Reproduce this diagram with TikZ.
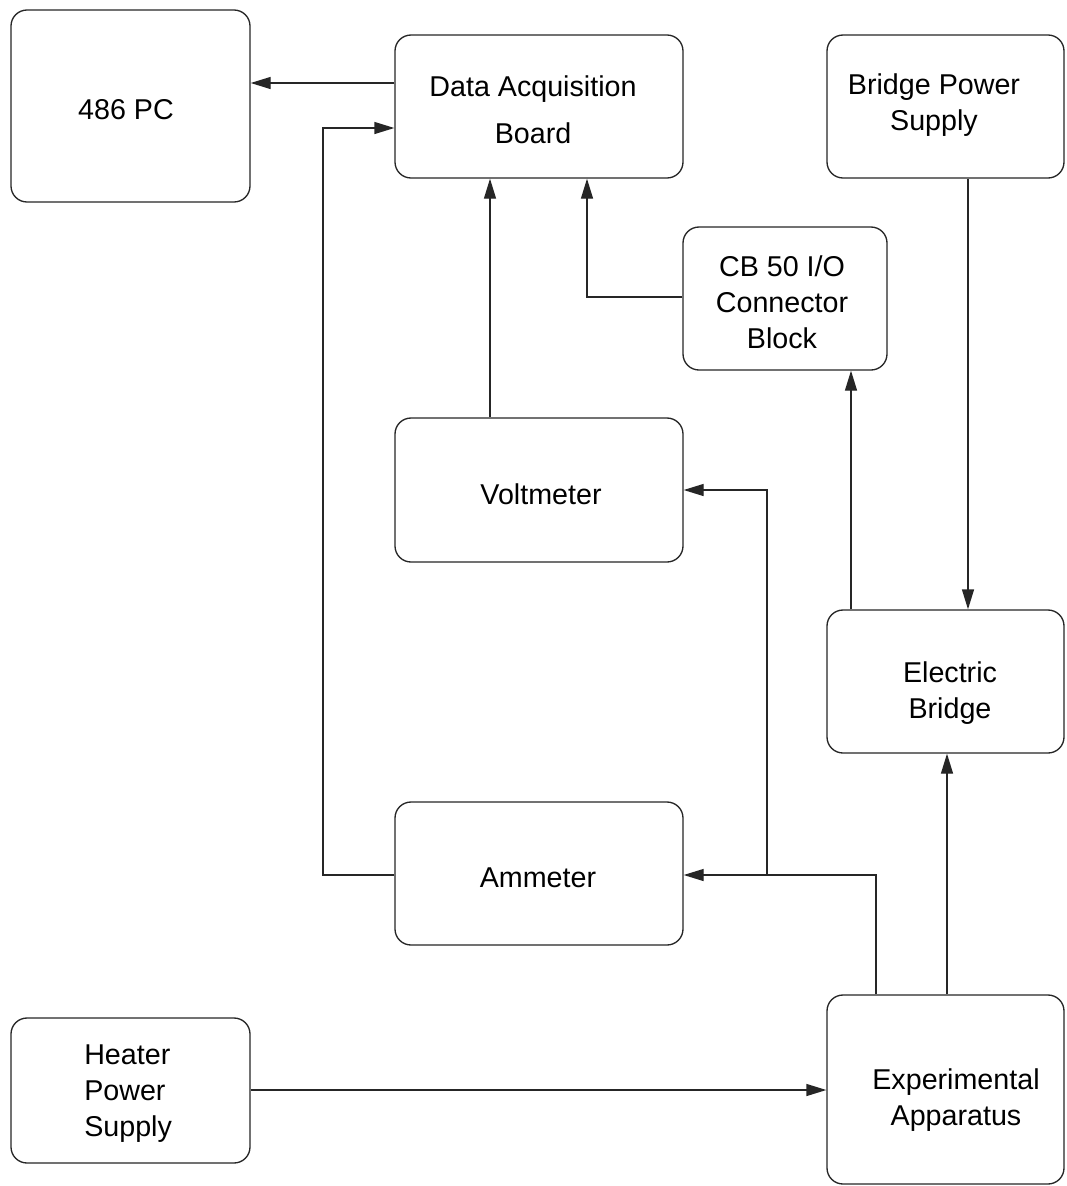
\documentclass[tikz,border=0pt]{standalone}
\usepackage{fontspec}
\setmainfont{Liberation Sans}
\usetikzlibrary{arrows.meta}
\tikzset{
  box/.style={draw=black!85, line width=1pt, rounded corners=12pt, inner sep=0pt, fill=white},
  lbl/.style={inner sep=0pt, align=center, font=\fontsize{21.5pt}{27pt}\selectfont},
  conn/.style={draw=black!85, line width=1pt},
  arr/.style={conn, -{Triangle[length=15pt,width=9pt]}}
}
\begin{document}
\begin{tikzpicture}[x=0.75pt,y=-0.75pt]
\useasboundingbox (0,0) rectangle (1067,1186);
% boxes
\node[box, minimum width=179.25pt, minimum height=144pt] (pc)  at (130.5,106) {};
\node[box, minimum width=216pt, minimum height=107.25pt] (dab) at (539,106.5) {};
\node[box, minimum width=177.75pt, minimum height=107.25pt] (bps) at (945.5,106.5) {};
\node[box, minimum width=153pt, minimum height=107.25pt] (cb)  at (785,298.5) {};
\node[box, minimum width=216pt, minimum height=108pt] (vm)  at (539,490) {};
\node[box, minimum width=177.75pt, minimum height=107.25pt] (eb)  at (945.5,681.5) {};
\node[box, minimum width=216pt, minimum height=107.25pt] (am)  at (539,873.5) {};
\node[box, minimum width=179.25pt, minimum height=108.75pt] (hps) at (130.5,1090.5) {};
\node[box, minimum width=177.75pt, minimum height=141.75pt] (ea)  at (945.5,1089.5) {};
% labels
\node[lbl] (tpc)  at (126,110) {486 PC};
\node[lbl] (tdab) at (533,110) {Data Acquisition\\[8pt]Board};
\node[lbl] (tbps) at (934,105) {Bridge Power\\Supply};
\node[lbl] (tcb)  at (782,302) {CB 50 I/O\\Connector\\Block};
\node[lbl] (tvm)  at (541,494) {Voltmeter};
\node[lbl] (teb)  at (950,693) {Electric\\Bridge};
\node[lbl] (tam)  at (538,878) {Ammeter};
\node[lbl, align=left, anchor=west] (thps) at (84,1094) {Heater\\Power\\Supply};
\node[lbl] (tea)  at (956,1100) {Experimental\\Apparatus};
% junction / bend points
\coordinate (amL) at (323,875);
\coordinate (dabL) at (323,128);
\coordinate (cbL) at (587,297);
\coordinate (eaA) at (876,875);
\coordinate (jn) at (767,875);
\coordinate (jv) at (767,490);
% connectors
\draw[arr] (dab.west |- 0,83) -- (pc.east |- 0,83);
\draw[arr] (am.west |- amL) -- (amL) -- (dabL) -- (dab.west |- dabL);
\draw[arr] (vm.north -| 490,0) -- (dab.south -| 490,0);
\draw[arr] (cb.west |- cbL) -- (cbL) -- (dab.south -| cbL);
\draw[arr] (bps.south -| 968,0) -- (eb.north -| 968,0);
\draw[arr] (eb.north -| 851,0) -- (cb.south -| 851,0);
\draw[arr] (ea.north -| 947,0) -- (eb.south -| 947,0);
\draw[arr] (ea.north -| eaA) -- (eaA) -- (am.east |- eaA);
\draw[arr] (jn) -- (jv) -- (vm.east |- jv);
\draw[arr] (hps.east |- 0,1090) -- (ea.west |- 0,1090);
\end{tikzpicture}
\end{document}
